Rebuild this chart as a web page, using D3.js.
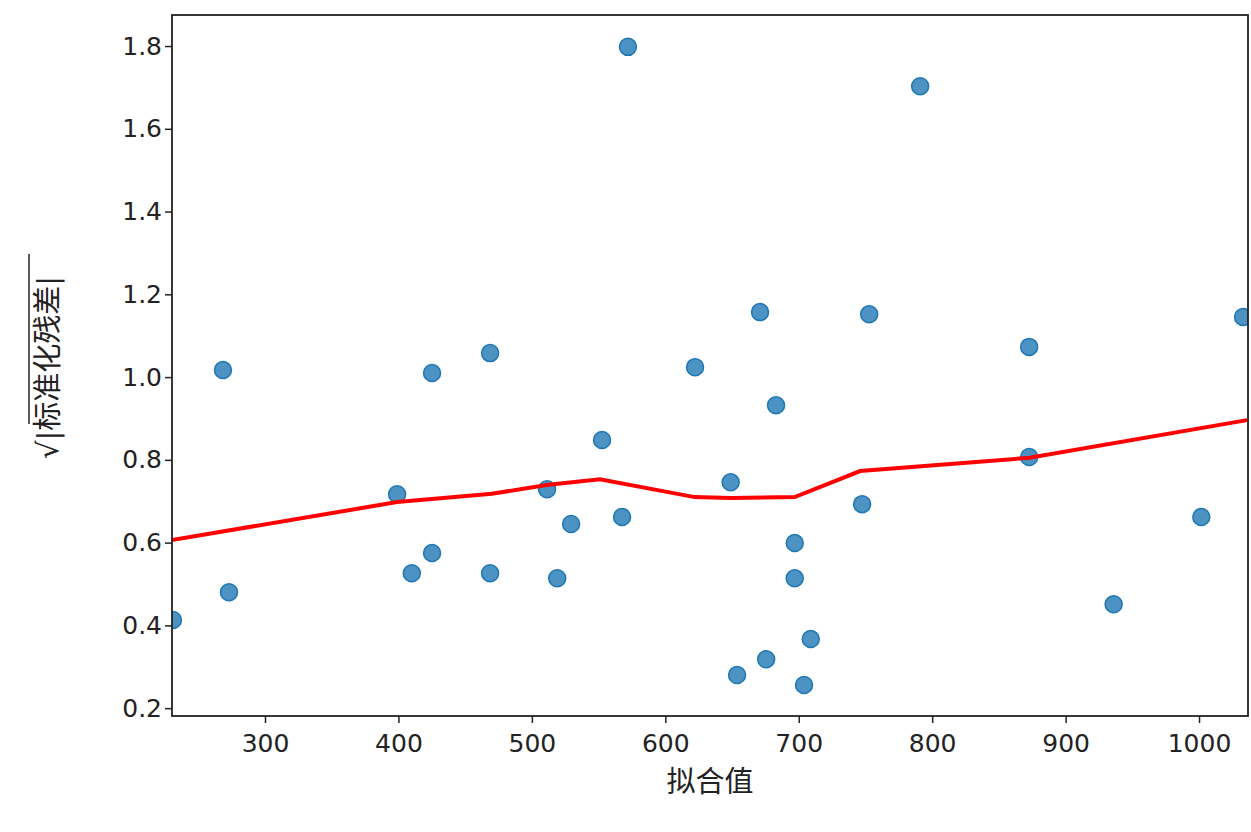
<!DOCTYPE html><html><head><meta charset="utf-8"><script src="https://cdn.jsdelivr.net/npm/d3@7"></script>
<style>body{margin:0;background:#fff}text{font-family:"DejaVu Sans","Noto Sans CJK SC",sans-serif}</style></head><body><svg id="c" width="1251" height="832"></svg><script>
const fitted=[231,268.5,273,399,410,425.2,425.2,468.7,468.7,511.4,519,529.4,552.6,567.6,572,622.3,649,653.8,671,675.6,683,697,697,704,709,747.5,752.8,791,872.7,872.7,936,1001.7,1033];
const resid=[0.413,1.017,0.480,0.717,0.526,0.575,1.010,1.058,0.526,0.729,0.514,0.645,0.848,0.662,1.798,1.024,0.746,0.280,1.157,0.318,0.932,0.599,0.514,0.256,0.367,0.693,1.152,1.703,1.073,0.807,0.451,0.662,1.145];
const lowX=[230,399,470,511,551,622,649,697,746,873,1036];
const lowY=[0.606,0.698,0.718,0.739,0.753,0.710,0.708,0.710,0.773,0.805,0.896];
const xTicks=[300,400,500,600,700,800,900,1000];
const yTicks=[0.2,0.4,0.6,0.8,1.0,1.2,1.4,1.6,1.8];
const svg=d3.select("#c"),L=172,R=1248,T=15,B=716;
const x=d3.scaleLinear().domain([230.3,1036.7]).range([L,R]);
const y=d3.scaleLinear().domain([0.181,1.875]).range([B,T]);
const g=svg.append("g");
g.append("clipPath").attr("id","cp").append("rect").attr("x",L).attr("y",T).attr("width",R-L).attr("height",B-T);
const pl=g.append("g").attr("clip-path","url(#cp)");
pl.selectAll("circle").data(fitted).join("circle").attr("cx",d=>x(d)).attr("cy",(d,i)=>y(resid[i])).attr("r",8.5)
 .attr("fill","rgba(31,119,180,0.8)").attr("stroke","#1f77b4").attr("stroke-width",1.5);
pl.append("path").attr("d",d3.line().x(d=>x(d)).y((d,i)=>y(lowY[i]))(lowX)).attr("fill","none").attr("stroke","red").attr("stroke-width",4);
const ax=svg.append("g").attr("transform",`translate(0,${B})`).call(d3.axisBottom(x).tickValues(xTicks).tickSize(7).tickFormat(d3.format("d")));
const ay=svg.append("g").attr("transform",`translate(${L},0)`).call(d3.axisLeft(y).tickValues(yTicks).tickSize(7).tickFormat(d3.format(".1f")));
[ax,ay].forEach(a=>{a.select(".domain").remove();a.selectAll("text").attr("font-size",25).attr("fill","#222");a.selectAll("line").attr("stroke","#222").attr("stroke-width",1.5);});
ax.selectAll("text").attr("dy","1.05em");
svg.append("rect").attr("x",L).attr("y",T).attr("width",R-L).attr("height",B-T).attr("fill","none").attr("stroke","#222").attr("stroke-width",1.8);
svg.append("text").attr("x",(L+R)/2).attr("y",792).attr("text-anchor","middle").attr("font-size",29).attr("fill","#222").text("拟合值");
svg.append("text").attr("transform",`translate(58,${(T+B)/2+2}) rotate(-90)`).attr("text-anchor","middle").attr("font-size",29).attr("fill","#222").text("√|标准化残差|");
svg.append("line").attr("x1",29).attr("x2",29).attr("y1",254).attr("y2",424).attr("stroke","#222").attr("stroke-width",1.5);
</script></body></html>
